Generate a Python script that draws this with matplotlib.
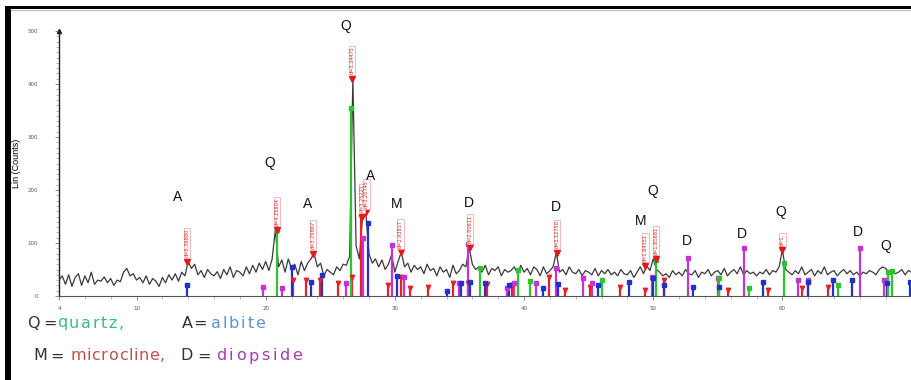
import numpy as np
import matplotlib
matplotlib.use("Agg")
import matplotlib.pyplot as plt
from matplotlib.patches import Rectangle

# ---------------- data ----------------
start_2theta = 4.0
step_2theta = 0.25
counts = [
    30, 38, 22, 40, 18, 35, 42, 20, 38, 25, 45, 22, 30, 28, 36, 25,
    33, 20, 30, 27, 45, 52, 38, 42, 30, 35, 25, 38, 22, 33, 28, 18,
    35, 25, 40, 30, 42, 28, 45, 38, 65, 52, 60, 40, 48, 35, 50, 42,
    38, 46, 33, 50, 40, 55, 35, 48, 45, 38, 55, 42, 58, 45, 62, 50,
    65, 48, 70, 125, 55, 68, 45, 70, 52, 60, 40, 65, 48, 62, 70, 80,
    55, 62, 38, 50, 45, 40, 55, 48, 60, 58, 75, 410, 95, 70, 150, 158,
    80, 62, 70, 55, 68, 50, 60, 78, 45, 65, 83, 55, 62, 45, 58, 50,
    55, 42, 60, 48, 52, 38, 55, 45, 50, 35, 58, 42, 48, 60, 55, 92,
    60, 50, 55, 45, 58, 40, 52, 48, 55, 38, 50, 45, 48, 55, 42, 58,
    45, 52, 40, 55, 50, 38, 55, 42, 48, 55, 82, 45, 50, 40, 55, 45,
    42, 50, 38, 48, 45, 40, 52, 38, 48, 42, 50, 40, 45, 38, 50, 42,
    40, 48, 35, 45, 55, 42, 57, 48, 70, 50, 45, 38, 42, 35, 48, 40,
    45, 38, 50, 42, 40, 48, 35, 45, 42, 50, 38, 45, 48, 40, 52, 38,
    45, 50, 42, 55, 40, 48, 42, 45, 38, 45, 42, 50, 40, 48, 45, 55,
    87, 50, 45, 40, 48, 42, 55, 40, 45, 50, 38, 48, 42, 55, 40, 45,
    48, 38, 45, 50, 42, 48, 40, 45, 38, 45, 42, 48, 45, 40, 50, 55,
    52, 45, 48, 42, 45, 50, 40, 48, 45,
]

quartz_pos = [20.86, 26.64, 36.6, 39.5, 40.5, 46.0, 50.2, 55.1, 57.4, 60.1, 64.3, 68.2, 68.5]
quartz_h = [125, 355, 52, 49, 28, 30, 68, 34, 15, 62, 20, 45, 48]

albite_pos = [13.9, 22.0, 23.5, 24.35, 27.9, 30.2, 34.0, 35.1, 35.8, 37.0, 38.8, 41.5,
              42.6, 45.7, 48.1, 50.0, 50.8, 53.1, 55.1, 58.5, 62.0, 63.9, 65.4, 68.1, 69.9]
albite_h = [20, 55, 26, 40, 138, 38, 10, 25, 27, 25, 20, 15,
            22, 20, 26, 34, 20, 17, 17, 26, 26, 30, 30, 25, 26]

microcline_pos = [22.1, 23.1, 24.2, 25.6, 26.7, 27.4, 29.5, 30.5, 31.2, 32.6, 34.5, 35.7,
                  37.1, 39.1, 41.9, 43.2, 45.1, 47.4, 49.4, 50.8, 55.8, 58.9, 61.5, 63.5]
microcline_h = [30, 30, 30, 25, 36, 150, 20, 36, 16, 17, 25, 25,
                22, 20, 36, 11, 17, 17, 11, 30, 11, 11, 15, 17]

diopside_pos = [19.8, 21.3, 26.2, 27.5, 29.8, 30.7, 35.0, 35.65, 38.7, 39.2, 40.9, 42.5,
                44.6, 45.3, 49.9, 52.7, 55.0, 57.0, 61.2, 62.0, 66.0, 67.9]
diopside_h = [17, 15, 25, 110, 96, 35, 25, 98, 15, 25, 25, 52,
              34, 25, 36, 72, 34, 90, 30, 30, 90, 30]

peak_pos = [13.9, 20.86, 23.65, 26.7, 27.45, 27.8, 30.45, 35.8, 42.55, 49.4, 50.2, 60.0]
peak_h = [65, 125, 80, 410, 150, 158, 83, 92, 82, 57, 70, 87]
peak_labels = ["d=6.36880", "d=4.25804", "d=3.76867", "d=3.34475", "d=3.25221", "d=3.20745",
               "d=2.93817", "d=2.50611", "d=2.12750", "d=1.84351", "d=1.81681", "d=1."]

phase_letters = ["A", "Q", "A", "Q", "A", "M", "D", "D", "Q", "M", "D", "D", "Q", "D", "Q"]
letter_x = [13.18, 20.31, 23.26, 26.2, 28.14, 30.16, 35.74, 42.48, 50.0, 48.99, 52.64, 56.9, 59.84, 65.81, 67.98]
letter_y = [187, 251, 174, 509, 226, 174, 175, 168, 198, 142, 104, 117, 158, 121, 94]

x_ticks = [4, 10, 20, 30, 40, 50, 60]
y_ticks = [0, 100, 200, 300, 400, 500]

# legend words: (text, colour, left px, right px, row y px)
legend_words = [
    ("Q", "#333333", 27, 39, 323), ("=", "#333333", 43, 52, 323),
    ("quartz,", "#3cb98a", 57, 124, 323),
    ("A=", "#333333", 182, 207, 323), ("albite", "#5b93d3", 211, 265, 323),
    ("M=", "#333333", 33, 64, 356), ("microcline,", "#c0504d", 70, 165, 356),
    ("D=", "#333333", 180, 211, 356), ("diopside", "#a83aae", 216, 302, 356),
]

# ---------------- figure ----------------
W, H = 911, 380
fig = plt.figure(figsize=(W / 100, H / 100), dpi=100)
fig.patch.set_facecolor("white")

ax = fig.add_axes([59 / W, 1 - 296 / H, (W - 59) / W + 0.002, (296 - 31) / H])
ax.set_xlim(4, 70.1)
ax.set_ylim(0, 500)

two_theta = start_2theta + step_2theta * np.arange(len(counts))
ax.plot(two_theta, counts, color="#3a3a3a", lw=0.9, zorder=3)

def sticks(pos, h, color, marker="s", ms=2.5, z=4):
    ax.vlines(pos, 0, h, colors=color, lw=1.6, zorder=z)
    ax.plot(pos, h, linestyle="none", marker=marker, ms=ms, color=color, zorder=z + 0.1)

sticks(microcline_pos, microcline_h, "#e8202a", marker="v", ms=3.2)
sticks(diopside_pos, diopside_h, "#c832d2")
sticks(albite_pos, albite_h, "#2431c8")
sticks(quartz_pos, quartz_h, "#2ec42e")

# peak markers and d-labels
ax.plot(peak_pos, peak_h, linestyle="none", marker="v", ms=4, color="#e21a1a", zorder=6)
for px, ph, lab in zip(peak_pos, peak_h, peak_labels):
    ax.text(px, ph + 8, lab, rotation=90, fontsize=3.6, color="#e02020",
            ha="center", va="bottom", zorder=7,
            bbox=dict(boxstyle="square,pad=0.15", fc="white", ec="#f0a0a0", lw=0.5))

for s, lx, ly in zip(phase_letters, letter_x, letter_y):
    ax.text(lx, ly, s, fontsize=10, ha="center", va="center", color="#111111",
            family="Liberation Sans", clip_on=False, zorder=8)

# axes styling
for side in ["top", "right"]:
    ax.spines[side].set_visible(False)
ax.spines["left"].set_color("#222222")
ax.spines["left"].set_linewidth(1.0)
ax.spines["bottom"].set_color("#555555")
ax.spines["bottom"].set_linewidth(0.8)
ax.set_xticks(x_ticks)
ax.set_xticklabels([str(t) for t in x_ticks])
ax.set_xticks(np.arange(4, 71, 2), minor=True)
ax.set_yticks(y_ticks)
ax.set_yticklabels([str(t) for t in y_ticks])
ax.set_yticks(np.arange(0, 501, 10), minor=True)
ax.tick_params(axis="both", which="major", labelsize=4, labelcolor="#555555",
               color="#777777", length=3, width=0.6, direction="out")
ax.tick_params(axis="both", which="minor", color="#999999", length=2, width=0.5)
ax.tick_params(axis="y", which="major", pad=12)
ax.tick_params(axis="x", which="major", pad=4)
ax.plot([4], [500], marker="^", ms=3, color="#222222", clip_on=False, zorder=5)
ax.set_ylabel("Lin (Counts)", fontsize=6.5, family="Liberation Sans")
ax.yaxis.set_label_coords((21 - 59) / (W - 59), 0.5)
ax.patch.set_alpha(0)

# legend text at bottom, fitted to the reference word extents
fig.canvas.draw()
renderer = fig.canvas.get_renderer()
FS = 11.5
FAM = "DejaVu Sans"
for word, col, x0, x1, yy in legend_words:
    widths = []
    for ch in word:
        t = fig.text(0, 0, ch, fontsize=FS, family=FAM)
        widths.append(t.get_window_extent(renderer=renderer).width)
        t.remove()
    total = sum(widths)
    gap = (x1 - x0 - total) / (len(word) - 1) if len(word) > 1 else 0
    gap = max(gap, 0)
    x = x0
    for ch, w in zip(word, widths):
        fig.text(x / W, 1 - yy / H, ch, fontsize=FS, family=FAM, color=col,
                 va="center", ha="left")
        x += w + gap

# frame lines
fig.add_artist(Rectangle((5 / W, 0), 6 / W, 1 - 6 / H, transform=fig.transFigure,
                         color="black", lw=0, zorder=10))
fig.add_artist(Rectangle((5 / W, 1 - 9 / H), 1, 3 / H, transform=fig.transFigure,
                         color="black", lw=0, zorder=10))
fig.add_artist(Rectangle((11 / W, 1 - 11 / H), 1, 1.5 / H, transform=fig.transFigure,
                         color="#bbbbbb", lw=0, zorder=10))

fig.savefig("out.png", dpi=100)
